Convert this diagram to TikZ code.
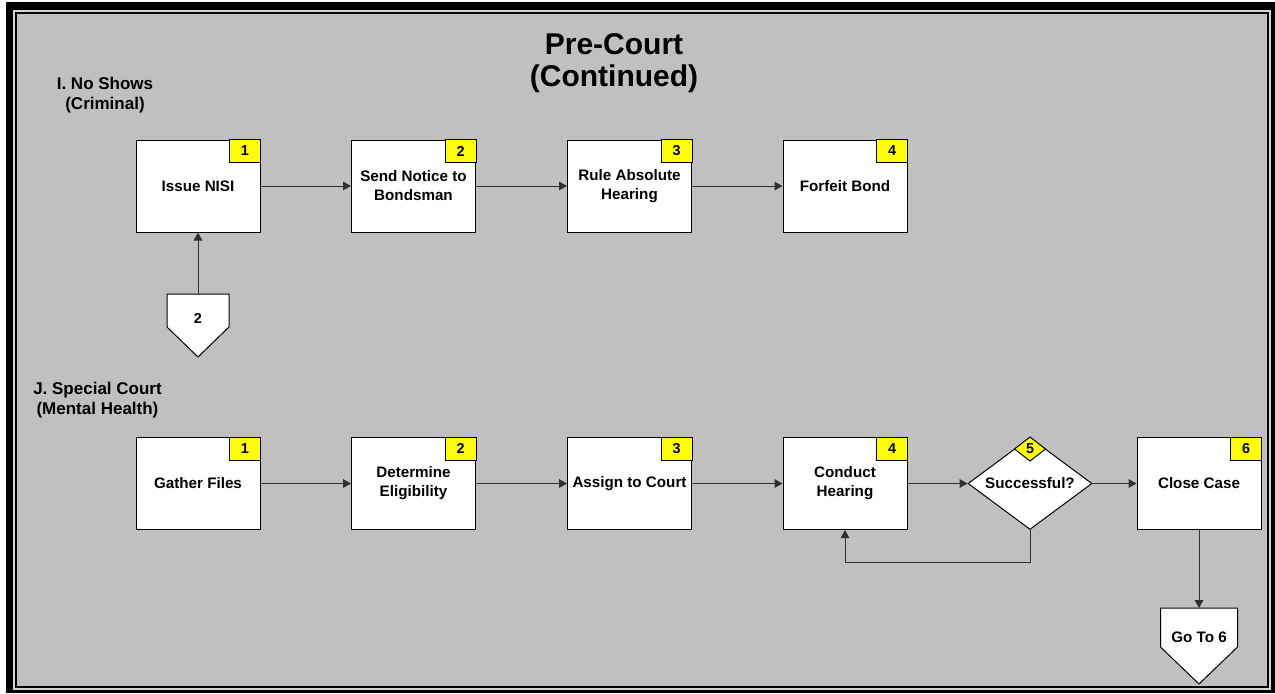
\documentclass[tikz,border=0pt]{standalone}
\usepackage{fontspec}
\setmainfont{Liberation Sans}
\usetikzlibrary{shapes.geometric,arrows.meta}
\definecolor{bggray}{HTML}{C0C0C0}
\definecolor{rimgray}{HTML}{D4D4D4}
\definecolor{tagyellow}{HTML}{FFFF00}
\definecolor{linegray}{HTML}{303030}
\newcommand\boxfont{\fontsize{11.4}{14.25}\selectfont\bfseries}
\newcommand\tagfont{\fontsize{10.8}{12}\selectfont\bfseries}
\newcommand\lblfont{\fontsize{12.75}{15}\selectfont\bfseries}
\begin{document}
\begin{tikzpicture}[x=0.75pt,y=-0.75pt,
    taskbox/.style={draw,fill=white,line width=0.75pt,minimum width=93pt,minimum height=69pt,inner sep=0pt,align=center,font=\boxfont},
    numtag/.style={draw,fill=tagyellow,line width=0.75pt,minimum width=23.25pt,minimum height=17.25pt,inner sep=0pt,outer sep=0pt,anchor=north east,font=\tagfont},
    decbox/.style={diamond,draw,fill=white,line width=0.75pt,minimum width=93pt,minimum height=69pt,inner sep=0pt,aspect=1.35,font=\boxfont},
    dectag/.style={diamond,draw,fill=tagyellow,line width=0.75pt,minimum width=23.25pt,minimum height=18pt,inner sep=0pt,outer sep=0pt,anchor=north,font=\tagfont},
    offpage/.style={draw,fill=white,line width=0.75pt},
    flow/.style={draw=linegray,line width=0.75pt,-{Triangle[length=6pt,width=6.5pt]}},
    sect/.style={align=center,inner sep=0pt,font=\lblfont}]
  \useasboundingbox (0,0) rectangle (1275,693);
  \fill[white] (0,0) rectangle (1275,693);
  \fill[black] (6,2) rectangle (1275,693);
  \fill[rimgray] (13.3,10) rectangle (1270.7,689.7);
  \fill[black] (15,12) rectangle (1269.3,688.3);
  \fill[bggray] (16.7,14) rectangle (1267.3,686.3);

  \node[align=center,inner sep=0pt,font=\fontsize{22.5}{24}\selectfont\bfseries] (title) at (614,63) {Pre-Court\\(Continued)};
  \node[sect] (noshow) at (105,95) {I. No Shows\\(Criminal)};
  \node[sect] (special) at (97.5,400.5) {J. Special Court\\(Mental Health)};

  \node[taskbox] (nisi) at (198,186) {Issue NISI};
  \node[numtag] (nisinum) at (nisi.north east) {1};
  \node[taskbox] (notice) at (413.5,186) {Send Notice to\\Bondsman};
  \node[numtag] (noticenum) at (notice.north east) {2};
  \node[taskbox] (ruleabs) at (629.5,186) {Rule Absolute\\Hearing};
  \node[numtag] (ruleabsnum) at (ruleabs.north east) {3};
  \node[taskbox] (forfeit) at (845,186) {Forfeit Bond};
  \node[numtag] (forfeitnum) at (forfeit.north east) {4};
  \draw[flow] (nisi) -- (notice);
  \draw[flow] (notice) -- (ruleabs);
  \draw[flow] (ruleabs) -- (forfeit);

  \coordinate (offtwo) at (198,294);
  \draw[offpage] (offtwo) -- ++(31,0) -- ++(0,33) -- ++(-31,30) -- ++(-31,-30) -- ++(0,-33) -- cycle;
  \node[font=\tagfont,inner sep=0pt] (offtwotxt) at (198,318) {2};
  \draw[flow] (offtwo) -- (nisi.south);

  \node[taskbox] (gather) at (198,483.5) {Gather Files};
  \node[numtag] (gathernum) at (gather.north east) {1};
  \node[taskbox] (elig) at (413.5,483.5) {Determine\\Eligibility};
  \node[numtag] (elignum) at (elig.north east) {2};
  \node[taskbox] (assign) at (629.5,483.5) {Assign to Court};
  \node[numtag] (assignnum) at (assign.north east) {3};
  \node[taskbox] (hearing) at (845,483.5) {Conduct\\Hearing};
  \node[numtag] (hearingnum) at (hearing.north east) {4};
  \node[decbox] (success) at (1030,483.5) {Successful?};
  \node[dectag] (successnum) at (success.north) {5};
  \node[taskbox] (close) at (1199,483.5) {Close Case};
  \node[numtag] (closenum) at (close.north east) {6};
  \draw[flow] (gather) -- (elig);
  \draw[flow] (elig) -- (assign);
  \draw[flow] (assign) -- (hearing);
  \draw[flow] (hearing) -- (success);
  \draw[flow] (success) -- (close);
  \draw[flow] (success.south) -- ++(0,32) -| (hearing.south);

  \coordinate (gotosix) at (1199,608);
  \draw[offpage] (gotosix) -- ++(38.5,0) -- ++(0,39) -- ++(-38.5,37) -- ++(-38.5,-37) -- ++(0,-39) -- cycle;
  \node[font=\boxfont,inner sep=0pt] (gotosixtxt) at (1199,637) {Go To 6};
  \draw[flow] (close.south) -- (gotosix);
\end{tikzpicture}
\end{document}
